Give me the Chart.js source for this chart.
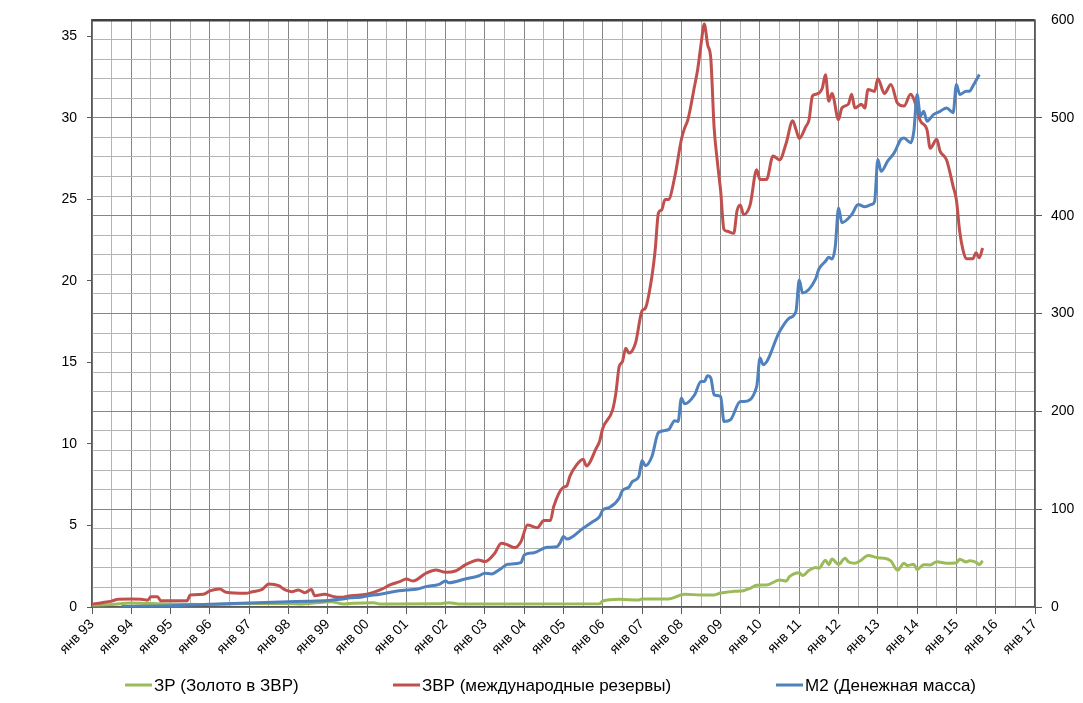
<!DOCTYPE html>
<html>
<head>
<meta charset="utf-8">
<script src="https://cdn.jsdelivr.net/npm/chart.js@4.4.1/dist/chart.umd.min.js"></script>
<style>
  html, body { margin: 0; padding: 0; background: #fff; }
  canvas { display: block; }
</style>
</head>
<body>
<canvas id="reservesChart" width="1083" height="703"></canvas>
<script>
// x = months since Jan 1993
const yearLabels = ['янв 93', 'янв 94', 'янв 95', 'янв 96', 'янв 97', 'янв 98', 'янв 99', 'янв 00',
  'янв 01', 'янв 02', 'янв 03', 'янв 04', 'янв 05', 'янв 06', 'янв 07', 'янв 08', 'янв 09',
  'янв 10', 'янв 11', 'янв 12', 'янв 13', 'янв 14', 'янв 15', 'янв 16', 'янв 17'];

// ЗР, млрд $ (right axis)
const goldMonths = [0, 6, 12, 18, 24, 36, 48, 60, 64, 73, 77, 80, 86, 88, 106, 109, 112, 155, 156, 161, 167, 168,
  176, 181, 186, 190, 192, 196, 199, 201, 203, 206, 210, 212, 213, 216, 217, 219, 221, 222, 224, 225, 226, 228,
  230, 231, 233, 235, 237, 240, 242, 244, 246, 248, 249, 251, 252, 254, 256, 258, 261, 264, 265, 267, 268, 270,
  271, 272];
const goldValues = [2, 2.5, 4, 3.5, 3, 2.5, 3.5, 3.5, 3.1, 5.4, 3.1, 3.8, 4.4, 3.1, 3.3, 4.4, 3.1, 3.2, 6.1, 7.8, 7.2, 8.2,
  8.2, 13, 12.3, 12.3, 14.3, 16, 16.7, 19.1, 22.3, 22.5, 27.5, 26.5, 31, 35.1, 32.2, 37.5, 40.4, 39.6, 47.8, 43.3, 49, 43.5,
  49.8, 46.3, 44.7, 48.1, 52.7, 50.3, 49.8, 47, 37.5, 44.7, 42.5, 43.7, 38.2, 43.3, 43, 46.3, 44.7, 45.3, 48.8, 46, 47.2, 45.7,
  43.3, 47.2];

// ЗВР, млрд $ (right axis)
const zvrMonths = [0, 3, 6, 8, 12, 15, 17, 18, 20, 21, 29, 30, 34, 36, 39, 41, 47, 49, 52, 54, 57, 59, 61, 63, 65, 67, 68,
  71, 74, 76, 79, 84, 88, 91, 94, 96, 98, 102, 105, 108, 111, 114, 118, 120, 123, 125, 127, 129, 131, 133, 136, 138, 140,
  141, 144, 145, 146, 148, 150, 151, 154, 155, 156, 159, 160, 161, 162, 163, 164, 166, 168, 169, 171, 172, 173, 174, 175,
  176, 178, 180, 181, 182, 184, 185, 186, 187, 188, 189, 190, 191, 192, 193, 194, 196, 197, 198, 199, 201, 203, 204, 206,
  208, 210, 212, 214, 215, 216, 218, 219, 220, 221, 223, 224, 225, 226, 228, 229, 231, 232, 233, 235, 236, 237, 239, 240,
  242, 244, 246, 248, 250, 251, 253, 255, 256, 258, 259, 261, 263, 264, 265, 266, 267, 269, 270, 271, 272];
const zvrValues = [3, 4.4, 6, 8, 8.2, 8, 7, 10.5, 10.5, 6.5, 6.4, 12.3, 13, 16.4, 18.4, 15, 14, 15.6, 18, 23.5, 21.8, 17.4,
  15.7, 17.4, 14.6, 18, 11.6, 13, 10.5, 9.9, 11.6, 13, 17.4, 22.5, 25.9, 28.6, 26.6, 34.5, 37.9, 35.5, 36.8, 43, 48.1, 46.4,
  54.9, 65.2, 63.4, 60.7, 66.8, 83.9, 81.1, 88.3, 88.3, 102.6, 122.5, 123.8, 134, 145.3, 151, 144.2, 162.3, 169.1, 182.8,
  201.5, 218.6, 245.8, 250.9, 264.6, 259.5, 269.8, 302.8, 305.5, 337.9, 365, 402.8, 406, 416.4, 416.4, 440, 477.8, 489.7,
  498.2, 532, 550, 575, 596, 575, 560, 490, 455, 425, 386, 384, 382, 405, 411, 401, 411, 447, 437, 437, 461, 457, 474, 497,
  488, 479, 491, 498, 522, 524, 530, 544, 517, 525, 498, 510, 514, 524, 510, 514, 510, 529, 527, 540, 525, 534, 515, 512,
  524, 519, 497, 488, 469, 478, 466, 457, 430, 416, 384, 365, 356, 356, 362, 357, 367];

// M2, трлн руб. (left axis)
const m2Months = [9, 24, 36, 48, 60, 66, 72, 76, 79, 82, 84, 88, 92, 96, 99, 102, 106, 108, 109, 114, 118, 120, 122, 125,
  127, 131, 132, 135, 139, 142, 143, 144, 145, 150, 153, 155, 156, 158, 161, 162, 164, 165, 167, 168, 169, 171, 173, 176,
  178, 179, 180, 181, 184, 186, 187, 188, 189, 190, 192, 193, 195, 198, 199, 203, 204, 205, 210, 213, 215, 216, 217, 221,
  222, 224, 225, 226, 227, 228, 229, 232, 234, 236, 238, 239, 240, 241, 243, 245, 247, 248, 250, 251, 252, 253, 254, 255,
  257, 259, 261, 263, 264, 265, 267, 268, 269, 271];
const m2Values = [0.03, 0.08, 0.17, 0.25, 0.32, 0.35, 0.4, 0.47, 0.56, 0.6, 0.68, 0.78, 0.94, 1.04, 1.09, 1.25, 1.39, 1.6,
  1.49, 1.72, 1.9, 2.07, 2.03, 2.37, 2.62, 2.72, 3.19, 3.33, 3.66, 3.7, 3.95, 4.32, 4.17, 4.83, 5.24, 5.54, 5.95, 6.1, 6.67,
  7.14, 7.35, 7.69, 8.0, 8.98, 8.66, 9.23, 10.7, 10.87, 11.42, 11.38, 12.81, 12.46, 13.0, 13.83, 13.83, 14.18, 14.04, 13.01,
  12.91, 11.38, 11.48, 12.6, 12.6, 13.52, 15.27, 14.86, 16.9, 17.72, 18.13, 20.05, 19.26, 20.12, 20.73, 21.2, 21.45, 21.34,
  22.1, 24.47, 23.57, 24.06, 24.68, 24.55, 24.68, 24.85, 27.44, 26.72, 27.34, 27.85, 28.67, 28.77, 28.47, 29.18, 31.43, 30.1,
  30.4, 29.79, 30.2, 30.4, 30.61, 30.31, 32.04, 31.43, 31.63, 31.63, 31.94, 32.66];

const toPoints = (xs, ys) => xs.map((x, i) => ({ x: x, y: ys[i] }));

const majorGrid = '#868686';
const minorGrid = '#b4b4b4';
const axisColor = '#5a5a5a';
const fontFamily = '"Liberation Sans", Arial, sans-serif';

// legend drawn Excel-style under the axis
const bottomLegend = {
    id: 'bottomLegend',
    afterDraw(chart, args, opts) {
        const ctx = chart.ctx;
        ctx.save();
        ctx.font = '17px ' + fontFamily;
        ctx.textBaseline = 'middle';
        chart.data.datasets.forEach((ds, i) => {
            const x0 = opts.starts[i];
            ctx.strokeStyle = ds.borderColor;
            ctx.lineWidth = 3;
            ctx.beginPath();
            ctx.moveTo(x0, opts.y);
            ctx.lineTo(x0 + 27, opts.y);
            ctx.stroke();
            ctx.fillStyle = '#000';
            ctx.fillText(ds.label, x0 + 29, opts.y + 1);
        });
        ctx.restore();
    }
};

const ctx = document.getElementById('reservesChart').getContext('2d');
new Chart(ctx, {
    type: 'line',
    data: {
        datasets: [{
            label: 'ЗР (Золото в ЗВР)',
            data: toPoints(goldMonths, goldValues),
            yAxisID: 'y1',
            borderColor: '#9bbb59',
            order: 2
        }, {
            label: 'ЗВР (международные резервы)',
            data: toPoints(zvrMonths, zvrValues),
            yAxisID: 'y1',
            borderColor: '#c0504d',
            order: 1
        }, {
            label: 'M2 (Денежная масса)',
            data: toPoints(m2Months, m2Values),
            yAxisID: 'y',
            borderColor: '#4f81bd',
            order: 0
        }]
    },
    options: {
        responsive: false,
        animation: false,
        layout: { padding: { top: 20, bottom: 38, left: 0, right: 0 } },
        elements: {
            point: { radius: 0 },
            line: { borderWidth: 3, cubicInterpolationMode: 'monotone', fill: false }
        },
        plugins: {
            legend: { display: false },
            tooltip: { enabled: false },
            bottomLegend: { starts: [125, 393, 776], y: 685 }
        },
        scales: {
            x: {
                type: 'linear',
                min: 0,
                max: 288,
                afterFit: (s) => { s.height = 58; },
                ticks: {
                    stepSize: 6,
                    autoSkip: false,
                    maxRotation: 45,
                    minRotation: 45,
                    padding: 2,
                    color: '#000',
                    font: { family: fontFamily, size: 14 },
                    callback: (v) => (v % 12 === 0 ? yearLabels[v / 12] : '')
                },
                grid: {
                    color: (c) => (c.tick.value % 12 === 0 ? majorGrid : minorGrid),
                    tickColor: (c) => (c.tick.value % 12 === 0 ? axisColor : 'rgba(0,0,0,0)'),
                    tickLength: 7
                },
                border: { color: axisColor, width: 1.5 }
            },
            y: {
                position: 'left',
                min: 0,
                max: 36,
                afterFit: (s) => { s.width = 92; },
                afterBuildTicks: (s) => { s.ticks = s.ticks.filter((t) => t.value % 5 === 0); },
                ticks: {
                    stepSize: 5,
                    includeBounds: false,
                    autoSkip: false,
                    padding: 10,
                    color: '#000',
                    font: { family: fontFamily, size: 14 }
                },
                grid: { drawOnChartArea: false, tickLength: 5, tickColor: axisColor },
                border: { color: axisColor, width: 1.5 }
            },
            y1: {
                position: 'right',
                min: 0,
                max: 600,
                afterFit: (s) => { s.width = 48; },
                ticks: {
                    stepSize: 20,
                    autoSkip: false,
                    padding: 9,
                    color: '#000',
                    font: { family: fontFamily, size: 14 },
                    callback: (v) => (v % 100 === 0 ? v : '')
                },
                grid: {
                    color: (c) => (c.tick.value === 600 ? '#404040' : (c.tick.value % 100 === 0 ? majorGrid : minorGrid)),
                    lineWidth: (c) => (c.tick.value === 600 ? 2.5 : 1),
                    tickColor: (c) => (c.tick.value % 100 === 0 && c.tick.value !== 600 ? axisColor : 'rgba(0,0,0,0)'),
                    tickLength: 7
                },
                border: { color: axisColor, width: 1.5 }
            }
        }
    },
    plugins: [bottomLegend]
});
</script>
</body>
</html>
